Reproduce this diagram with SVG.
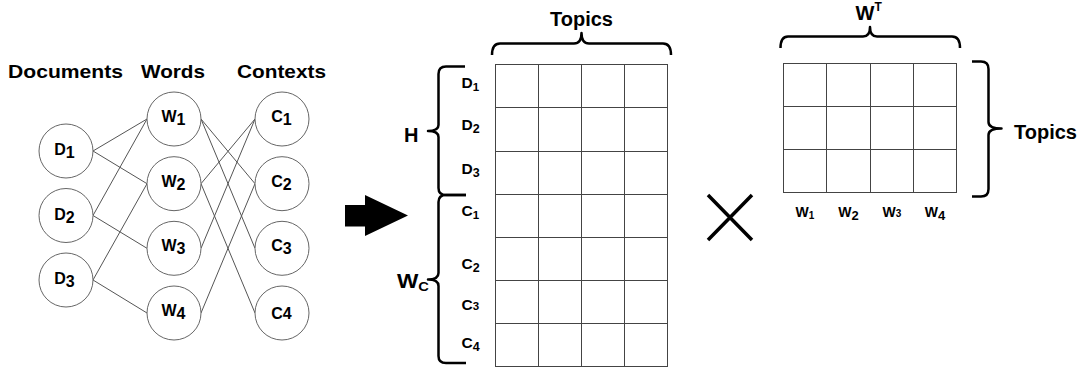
<svg xmlns="http://www.w3.org/2000/svg" width="1089" height="370" viewBox="0 0 1089 370">
<style>
text{font-family:"Liberation Sans",Arial,sans-serif;font-weight:bold;fill:#000}
.n circle{fill:#fff;stroke:#666;stroke-width:1}
.e line{stroke:#555;stroke-width:1}
.g line{stroke:#444;stroke-width:1}
.br{fill:none;stroke:#000;stroke-width:2.5;stroke-linejoin:round}
.lbl{font-size:16px;text-anchor:middle}
.ml{font-size:15.5px}
</style>
<rect width="1089" height="370" fill="#fff"/>
<g id="headers">
<text x="8" y="78" font-size="19" textLength="115" lengthAdjust="spacingAndGlyphs">Documents</text>
<text x="141" y="78" font-size="19" textLength="64" lengthAdjust="spacingAndGlyphs">Words</text>
<text x="237" y="78" font-size="19" textLength="89" lengthAdjust="spacingAndGlyphs">Contexts</text>
</g>
<g id="connectors" class="e">
<line x1="93" y1="151" x2="147" y2="119"/>
<line x1="93" y1="151" x2="147" y2="183.7"/>
<line x1="93" y1="215.5" x2="147" y2="119"/>
<line x1="93" y1="215.5" x2="147" y2="248.3"/>
<line x1="93" y1="280" x2="147" y2="183.7"/>
<line x1="93" y1="280" x2="147" y2="313"/>
<line x1="201" y1="119" x2="255" y2="183.7"/>
<line x1="201" y1="119" x2="255" y2="248.3"/>
<line x1="201" y1="183.7" x2="255" y2="119"/>
<line x1="201" y1="183.7" x2="255" y2="313"/>
<line x1="201" y1="248.3" x2="255" y2="119"/>
<line x1="201" y1="313" x2="255" y2="183.7"/>
</g>
<g id="D1" class="n"><circle cx="66" cy="151" r="27"/><text class="lbl" x="64.5" y="155">D<tspan dy="3">1</tspan></text></g>
<g id="D2" class="n"><circle cx="66" cy="215.5" r="27"/><text class="lbl" x="64.5" y="219.5">D<tspan dy="3">2</tspan></text></g>
<g id="D3" class="n"><circle cx="66" cy="280" r="27"/><text class="lbl" x="64.5" y="284">D<tspan dy="3">3</tspan></text></g>
<g id="W1" class="n"><circle cx="174" cy="119" r="27"/><text class="lbl" x="173.5" y="122">W<tspan dy="3">1</tspan></text></g>
<g id="W2" class="n"><circle cx="174" cy="183.7" r="27"/><text class="lbl" x="173.5" y="186.7">W<tspan dy="3">2</tspan></text></g>
<g id="W3" class="n"><circle cx="174" cy="248.3" r="27"/><text class="lbl" x="173.5" y="251.3">W<tspan dy="3">3</tspan></text></g>
<g id="W4" class="n"><circle cx="174" cy="313" r="27"/><text class="lbl" x="173.5" y="316">W<tspan dy="3">4</tspan></text></g>
<g id="C1" class="n"><circle cx="282" cy="119" r="27"/><text class="lbl" x="281.5" y="122">C<tspan dy="3">1</tspan></text></g>
<g id="C2" class="n"><circle cx="282" cy="183.7" r="27"/><text class="lbl" x="281.5" y="186.7">C<tspan dy="3">2</tspan></text></g>
<g id="C3" class="n"><circle cx="282" cy="248.3" r="27"/><text class="lbl" x="281.5" y="251.3">C<tspan dy="3">3</tspan></text></g>
<g id="C4" class="n"><circle cx="282" cy="313" r="27"/><text class="lbl" x="281.5" y="318.5">C4</text></g>
<g id="arrow"><polygon points="345,205 365,205 365,195 408,215.5 365,236 365,226.5 345,226.5" fill="#000"/></g>
<g id="matrixHWc">
<g class="g">
<line x1="495.5" y1="64" x2="495.5" y2="367"/>
<line x1="538.5" y1="64" x2="538.5" y2="367"/>
<line x1="581.5" y1="64" x2="581.5" y2="367"/>
<line x1="624.5" y1="64" x2="624.5" y2="367"/>
<line x1="667.5" y1="64" x2="667.5" y2="367"/>
<line x1="495" y1="64.5" x2="668" y2="64.5"/>
<line x1="495" y1="107.5" x2="668" y2="107.5"/>
<line x1="495" y1="151.5" x2="668" y2="151.5"/>
<line x1="495" y1="194.5" x2="668" y2="194.5"/>
<line x1="495" y1="237.5" x2="668" y2="237.5"/>
<line x1="495" y1="280.5" x2="668" y2="280.5"/>
<line x1="495" y1="323.5" x2="668" y2="323.5"/>
<line x1="495" y1="366.5" x2="668" y2="366.5"/>
</g>
<path class="br" d="M492,55 Q492,43.5 500,43.5 L574,43.5 Q581.5,43.5 581.5,33 Q581.5,43.5 589,43.5 L663,43.5 Q671,43.5 671,55"/>
<text x="581.5" y="26" font-size="20" text-anchor="middle">Topics</text>
<path class="br" d="M465,66.5 L446,66.5 Q438.5,66.5 438.5,74 L438.5,125 Q438.5,131 428,131 Q438.5,131 438.5,137 L438.5,188 Q438.5,195 446,195 L466,195"/>
<path class="br" d="M466,195 L446,195 Q438.5,195 438.5,202 L438.5,273 Q438.5,279.5 428,279.5 Q438.5,279.5 438.5,286 L438.5,356 Q438.5,363 446,363 L466,363"/>
<text x="404" y="142" font-size="20">H</text>
<text x="397" y="288" font-size="20" textLength="32" lengthAdjust="spacingAndGlyphs">W<tspan font-size="13" dy="3">C</tspan></text>
<text class="ml" x="461.5" y="88">D<tspan font-size="11.5" dy="3">1</tspan></text>
<text class="ml" x="461.5" y="130">D<tspan font-size="12.5" dy="3">2</tspan></text>
<text class="ml" x="461.5" y="174">D<tspan font-size="12.5" dy="3">3</tspan></text>
<text class="ml" x="461.5" y="216">C<tspan font-size="11.5" dy="3">1</tspan></text>
<text class="ml" x="461.5" y="269">C<tspan font-size="12.5" dy="3">2</tspan></text>
<text class="ml" x="461.5" y="309.5">C<tspan font-size="11.5">3</tspan></text>
<text class="ml" x="461.5" y="347.5">C<tspan font-size="12.5" dy="3">4</tspan></text>
</g>
<g id="times"><path d="M708,195 L752,240 M752,195 L708,240" stroke="#000" stroke-width="3.5" fill="none"/></g>
<g id="matrixWT">
<g class="g">
<line x1="783.5" y1="63" x2="783.5" y2="193"/>
<line x1="826.5" y1="63" x2="826.5" y2="193"/>
<line x1="870.5" y1="63" x2="870.5" y2="193"/>
<line x1="913.5" y1="63" x2="913.5" y2="193"/>
<line x1="956.5" y1="63" x2="956.5" y2="193"/>
<line x1="783" y1="63.5" x2="957" y2="63.5"/>
<line x1="783" y1="106.5" x2="957" y2="106.5"/>
<line x1="783" y1="149.5" x2="957" y2="149.5"/>
<line x1="783" y1="192.5" x2="957" y2="192.5"/>
</g>
<path class="br" d="M780.5,48 Q780.5,36.5 788,36.5 L863,36.5 Q870,36.5 870,27 Q870,36.5 877,36.5 L952,36.5 Q960,36.5 960,48"/>
<text x="855.5" y="20" font-size="20">W<tspan font-size="12" dy="-9">T</tspan></text>
<path class="br" d="M972,61.5 L981,61.5 Q988.5,61.5 988.5,69 L988.5,122 Q988.5,128.5 1001.5,128.5 Q988.5,128.5 988.5,135 L988.5,189 Q988.5,196.5 981,196.5 L972,196.5"/>
<text x="1014" y="138.5" font-size="20">Topics</text>
<text x="805" y="216.5" font-size="14" text-anchor="middle">W<tspan font-size="10" dy="2.5">1</tspan></text>
<text x="848.5" y="216.5" font-size="14" text-anchor="middle">W<tspan font-size="13" dy="3">2</tspan></text>
<text x="892" y="216.5" font-size="14" text-anchor="middle">W<tspan font-size="10">3</tspan></text>
<text x="935" y="216.5" font-size="14" text-anchor="middle">W<tspan font-size="13" dy="3">4</tspan></text>
</g>
</svg>
